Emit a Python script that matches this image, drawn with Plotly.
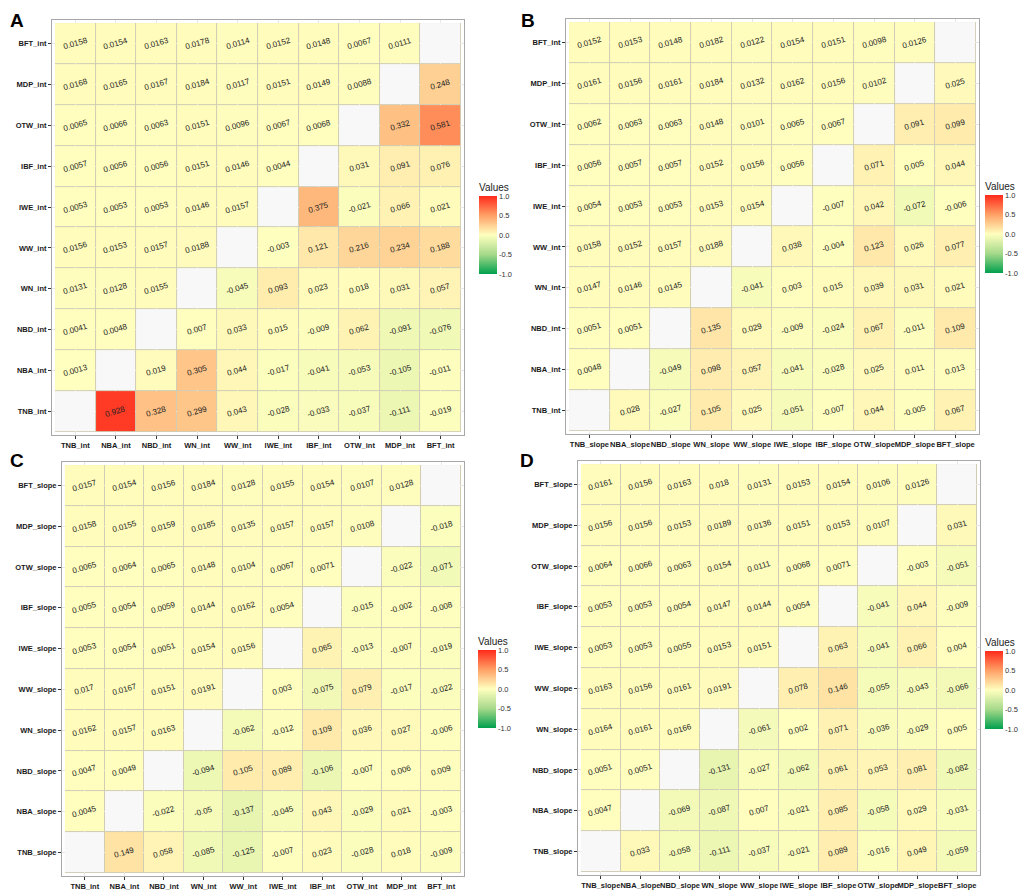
import plotly.graph_objects as go

names = ["TNB", "NBA", "NBD", "WN", "WW", "IWE", "IBF", "OTW", "MDP", "BFT"]
int_labels = [n + "_int" for n in names]
slope_labels = [n + "_slope" for n in names]

# rows listed top to bottom as drawn (BFT ... TNB), columns TNB ... BFT
vals_a = [
    [0.0158, 0.0154, 0.0163, 0.0178, 0.0114, 0.0152, 0.0148, 0.0067, 0.0111, None],
    [0.0168, 0.0165, 0.0167, 0.0184, 0.0117, 0.0151, 0.0149, 0.0088, None, 0.248],
    [0.0065, 0.0066, 0.0063, 0.0151, 0.0096, 0.0067, 0.0068, None, 0.332, 0.581],
    [0.0057, 0.0056, 0.0056, 0.0151, 0.0146, 0.0044, None, 0.031, 0.091, 0.076],
    [0.0053, 0.0053, 0.0053, 0.0146, 0.0157, None, 0.375, -0.021, 0.066, 0.021],
    [0.0156, 0.0153, 0.0157, 0.0188, None, -0.003, 0.121, 0.216, 0.234, 0.188],
    [0.0131, 0.0128, 0.0155, None, -0.045, 0.093, 0.023, 0.018, 0.031, 0.057],
    [0.0041, 0.0048, None, 0.007, 0.033, 0.015, -0.009, 0.062, -0.091, -0.076],
    [0.0013, None, 0.019, 0.305, 0.044, -0.017, -0.041, -0.053, -0.105, -0.011],
    [None, 0.928, 0.328, 0.299, 0.043, -0.028, -0.033, -0.037, -0.111, -0.019],
]
vals_b = [
    [0.0152, 0.0153, 0.0148, 0.0182, 0.0122, 0.0154, 0.0151, 0.0098, 0.0126, None],
    [0.0161, 0.0156, 0.0161, 0.0184, 0.0132, 0.0162, 0.0156, 0.0102, None, 0.025],
    [0.0062, 0.0063, 0.0063, 0.0148, 0.0101, 0.0065, 0.0067, None, 0.091, 0.099],
    [0.0056, 0.0057, 0.0057, 0.0152, 0.0156, 0.0056, None, 0.071, 0.005, 0.044],
    [0.0054, 0.0053, 0.0053, 0.0153, 0.0154, None, -0.007, 0.042, -0.072, -0.006],
    [0.0158, 0.0152, 0.0157, 0.0188, None, 0.038, -0.004, 0.123, 0.026, 0.077],
    [0.0147, 0.0146, 0.0145, None, -0.041, 0.003, 0.015, 0.039, 0.031, 0.021],
    [0.0051, 0.0051, None, 0.135, 0.029, -0.009, -0.024, 0.067, -0.011, 0.109],
    [0.0048, None, -0.049, 0.098, 0.057, -0.041, -0.028, 0.025, 0.011, 0.013],
    [None, 0.028, -0.027, 0.105, 0.025, -0.051, -0.007, 0.044, -0.005, 0.067],
]
vals_c = [
    [0.0157, 0.0154, 0.0156, 0.0184, 0.0128, 0.0155, 0.0154, 0.0107, 0.0128, None],
    [0.0158, 0.0155, 0.0159, 0.0185, 0.0135, 0.0157, 0.0157, 0.0108, None, -0.018],
    [0.0065, 0.0064, 0.0065, 0.0148, 0.0104, 0.0067, 0.0071, None, -0.022, -0.071],
    [0.0055, 0.0054, 0.0059, 0.0144, 0.0162, 0.0054, None, -0.015, -0.002, -0.008],
    [0.0053, 0.0054, 0.0051, 0.0154, 0.0156, None, 0.065, -0.013, -0.007, -0.019],
    [0.017, 0.0167, 0.0151, 0.0191, None, 0.003, -0.075, 0.079, -0.017, -0.022],
    [0.0162, 0.0157, 0.0163, None, -0.062, -0.012, 0.109, 0.036, 0.027, -0.006],
    [0.0047, 0.0049, None, -0.094, 0.105, 0.089, -0.106, -0.007, 0.006, 0.009],
    [0.0045, None, -0.022, -0.05, -0.137, -0.045, 0.043, -0.029, 0.021, -0.003],
    [None, 0.149, 0.058, -0.085, -0.125, -0.007, 0.023, -0.028, 0.018, -0.009],
]
vals_d = [
    [0.0161, 0.0156, 0.0163, 0.018, 0.0131, 0.0153, 0.0154, 0.0106, 0.0126, None],
    [0.0156, 0.0156, 0.0153, 0.0189, 0.0136, 0.0151, 0.0153, 0.0107, None, 0.031],
    [0.0064, 0.0066, 0.0063, 0.0154, 0.0111, 0.0068, 0.0071, None, -0.003, -0.051],
    [0.0053, 0.0053, 0.0054, 0.0147, 0.0144, 0.0054, None, -0.041, 0.044, -0.009],
    [0.0053, 0.0053, 0.0055, 0.0153, 0.0151, None, 0.063, -0.041, 0.066, 0.004],
    [0.0163, 0.0156, 0.0161, 0.0191, None, 0.078, 0.146, -0.055, -0.043, -0.066],
    [0.0164, 0.0161, 0.0166, None, -0.061, 0.002, 0.071, -0.036, -0.029, 0.005],
    [0.0051, 0.0051, None, -0.131, -0.027, -0.062, 0.061, 0.053, 0.081, -0.082],
    [0.0047, None, -0.069, -0.087, 0.007, -0.021, 0.085, -0.058, 0.029, -0.031],
    [None, 0.033, -0.058, -0.111, -0.037, -0.021, 0.089, -0.016, 0.049, -0.059],
]

# the page body has an 8px margin; the figure runs to the window's right/bottom edge
OFF = 8
W, H = 1031 - OFF, 891 - OFF


def px(x):
    return (x - OFF) / W


def py(y):
    return 1 - (y - OFF) / H


colorscale = [[0.0, "#00A04E"], [0.25, "#A6D98A"], [0.5, "#FFFFBF"],
              [0.75, "#FFA066"], [1.0, "#FF2A1A"]]
FONT = "Liberation Sans, Arial"

# (letter, values, x labels, y labels, axis box [x0, x1, y0, y1], colorbar [x, ytop], letter pos)
panels = [
    ("A", vals_a, int_labels, int_labels, [52, 464, 20, 435], [479, 180], [8, 8]),
    ("B", vals_b, slope_labels, int_labels, [566, 979, 19, 434], [985, 179], [519, 8]),
    ("C", vals_c, int_labels, slope_labels, [62, 464, 462, 876], [478, 634], [8, 448]),
    ("D", vals_d, slope_labels, slope_labels, [578, 980, 461, 875], [985, 635], [518, 448]),
]

fig = go.Figure()
annotations = []
shapes = []
tick_font = dict(family=FONT, size=7.5, color="#1a1a1a", weight="bold")

for k, (letter, vals, xl, yl, box, cb, lp) in enumerate(panels):
    sfx = "" if k == 0 else str(k + 1)
    xa, ya = "x" + sfx, "y" + sfx
    ylab = list(reversed(yl))  # top row label first
    n = len(xl)
    diag = [[1 if v is None else None for v in row] for row in vals]
    fig.add_trace(go.Heatmap(
        z=diag, x=xl, y=ylab, xaxis=xa, yaxis=ya, xgap=1, ygap=1,
        colorscale=[[0, "#F8F8F8"], [1, "#F8F8F8"]], showscale=False, hoverinfo="skip"))
    fig.add_trace(go.Heatmap(
        z=vals, x=xl, y=ylab, xaxis=xa, yaxis=ya, xgap=1, ygap=1,
        zmin=-1, zmax=1, colorscale=colorscale,
        colorbar=dict(
            title=dict(text="Values", side="top", font=dict(family=FONT, size=10, color="#222")),
            x=px(cb[0]), xanchor="left", y=py(cb[1]), yanchor="top",
            lenmode="pixels", len=94, thicknessmode="pixels", thickness=18,
            xpad=0, ypad=0, outlinewidth=0, ticks="",
            tickvals=[-1, -0.5, 0, 0.5, 1], ticktext=["-1.0", "-0.5", "0.0", "0.5", "1.0"],
            tickfont=dict(family=FONT, size=7.5, color="#333")),
    ))
    for i, row in enumerate(vals):
        for j, v in enumerate(row):
            if v is None:
                continue
            annotations.append(dict(
                x=xl[j], y=ylab[i], xref=xa, yref=ya, text=str(v), showarrow=False,
                textangle=-16, font=dict(family=FONT, size=8, color="#222")))
    shapes.append(dict(type="rect", xref=xa, yref=ya, x0=-0.5, x1=n - 0.5, y0=-0.5, y1=n - 0.5,
                       fillcolor="#D0CDB4", line=dict(width=0), layer="below"))
    annotations.append(dict(
        x=px(lp[0]), y=py(lp[1]), xref="paper", yref="paper", xanchor="left", yanchor="top",
        text="<b>" + letter + "</b>", showarrow=False,
        font=dict(family=FONT, size=19, color="#000")))
    axis_common = dict(showline=True, mirror=True, linecolor="#A8A8A8", linewidth=1,
                       showgrid=True, gridcolor="#E6E6E6", zeroline=False, automargin=False,
                       ticks="outside", ticklen=3, tickcolor="#333", tickfont=tick_font,
                       range=[-0.575, n - 0.425], fixedrange=True)
    fig.update_layout({
        "xaxis" + sfx: dict(axis_common, domain=[px(box[0]), px(box[1])], anchor=ya, tickangle=0),
        "yaxis" + sfx: dict(axis_common, domain=[py(box[3]), py(box[2])], anchor=xa,
                            range=[n - 0.425, -0.575]),
    })

fig.update_layout(
    width=W, height=H, margin=dict(l=0, r=0, t=0, b=0, autoexpand=False),
    paper_bgcolor="white", plot_bgcolor="white",
    annotations=annotations, shapes=shapes, showlegend=False,
)

fig.write_html("out.html")
